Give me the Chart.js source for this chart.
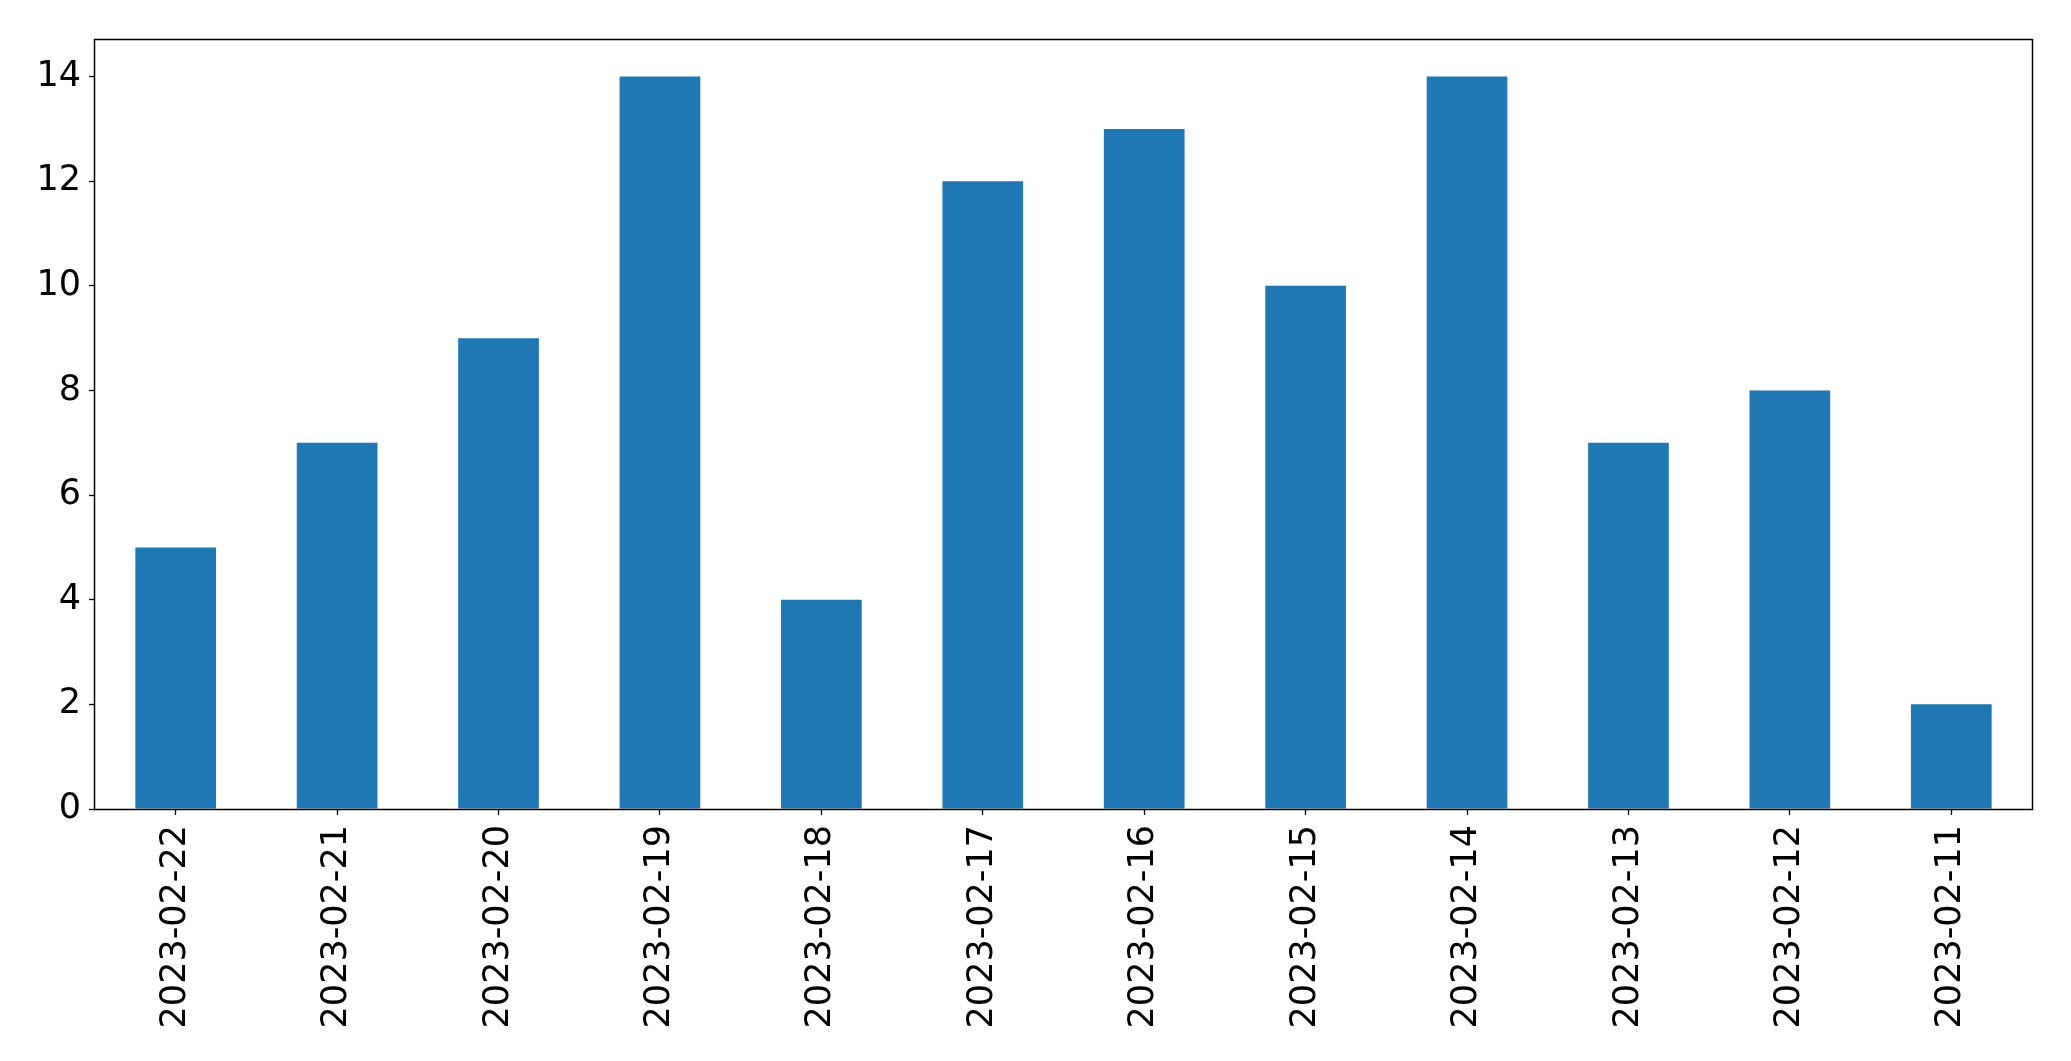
<!DOCTYPE html>
<html>
<head>
<meta charset="utf-8">
<script src="https://cdn.jsdelivr.net/npm/chart.js@4"></script>
<style>
    html, body { margin: 0; padding: 0; background: #fff; }
    canvas { display: block; }
</style>
</head>
<body>
<canvas id="barChart" width="2071" height="1061"></canvas>
<script>
// chart data
const dates = ['2023-02-22', '2023-02-21', '2023-02-20', '2023-02-19', '2023-02-18', '2023-02-17',
               '2023-02-16', '2023-02-15', '2023-02-14', '2023-02-13', '2023-02-12', '2023-02-11'];
const counts = [5, 7, 9, 14, 4, 12, 13, 10, 14, 7, 8, 2];
const yTicks = [0, 2, 4, 6, 8, 10, 12, 14];
const yMax = 14.7;

// draws the box around the plot like matplotlib's spines
const framePlugin = {
    id: 'frame',
    afterDraw(chart) {
        const { ctx, chartArea: a } = chart;
        ctx.save();
        ctx.strokeStyle = '#000';
        ctx.lineWidth = 1.5;
        ctx.strokeRect(Math.round(a.left) - 0.5, Math.round(a.top) - 0.5,
                       Math.round(a.right - a.left) + 1, Math.round(a.bottom - a.top) + 1);
        ctx.restore();
    }
};

const tickFont = { family: 'DejaVu Sans', size: 35 };

new Chart(document.getElementById('barChart').getContext('2d'), {
    type: 'bar',
    data: {
        labels: dates,
        datasets: [{
            data: counts,
            backgroundColor: '#1f77b4',
            borderWidth: 0,
            barPercentage: 0.5,
            categoryPercentage: 1.0
        }]
    },
    options: {
        responsive: false,
        animation: false,
        layout: { padding: { top: 40, right: 39, left: 0, bottom: 0 } },
        plugins: { legend: { display: false }, tooltip: { enabled: false } },
        scales: {
            x: {
                offset: true,
                grid: { offset: false, drawOnChartArea: false, drawTicks: true, tickLength: 6, tickColor: '#000', tickWidth: 1.3 },
                border: { display: false },
                ticks: { color: '#000', font: tickFont, minRotation: 90, maxRotation: 90, padding: 10, autoSkip: false },
                afterFit(scale) { scale.height = 252; }
            },
            y: {
                min: 0,
                max: yMax,
                grid: { drawOnChartArea: false, drawTicks: true, tickLength: 6, tickColor: '#000', tickWidth: 1.3 },
                border: { display: false },
                ticks: { color: '#000', font: tickFont, padding: 8 },
                afterBuildTicks(scale) { scale.ticks = yTicks.map(v => ({ value: v })); },
                afterFit(scale) { scale.width = 95; }
            }
        }
    },
    plugins: [framePlugin]
});
</script>
</body>
</html>
